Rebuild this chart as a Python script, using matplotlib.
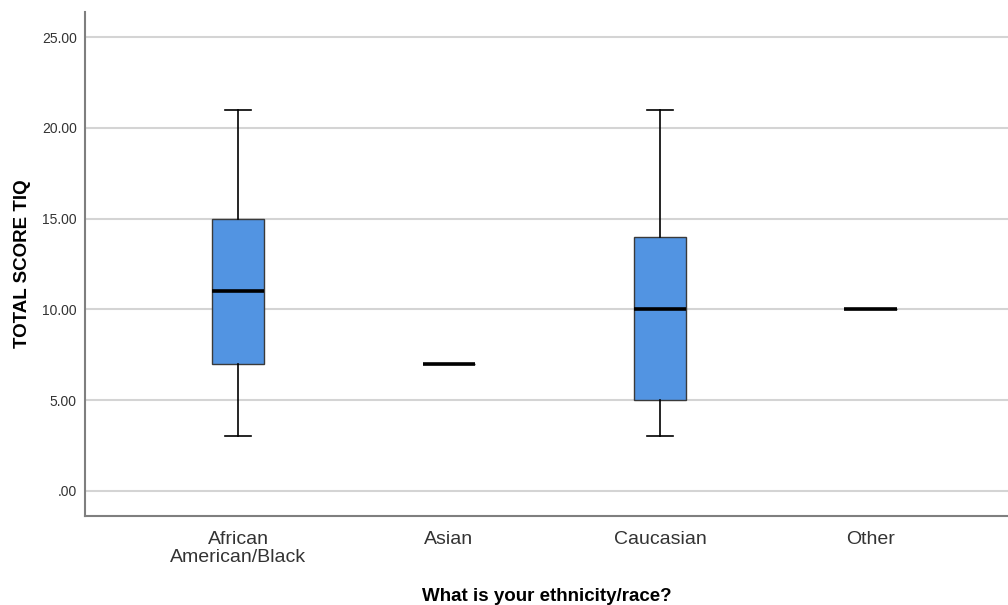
import matplotlib
matplotlib.use("Agg")
import matplotlib.pyplot as plt
from matplotlib.ticker import FuncFormatter

plt.rcParams['font.family'] = ['Liberation Sans', 'DejaVu Sans']

# five-number summaries per group
groups = ['African\nAmerican/Black', 'Asian', 'Caucasian', 'Other']
lo_whisk = [3, 7, 3, 10]
q1 = [7, 7, 5, 10]
median = [11, 7, 10, 10]
q3 = [15, 7, 14, 10]
hi_whisk = [21, 7, 21, 10]

yticks = [0, 5, 10, 15, 20, 25]

stats = []
for i in range(len(groups)):
    stats.append({'whislo': lo_whisk[i], 'q1': q1[i], 'med': median[i],
                  'q3': q3[i], 'whishi': hi_whisk[i], 'fliers': []})

fig = plt.figure(figsize=(10.08, 6.05), dpi=100)
ax = fig.add_axes([85/1008, 1 - 516/605, 1 - 85/1008, (516 - 12)/605])

ax.set_ylim(-1.38, 26.38)
ax.set_xlim(-0.725, 3.65)
for y in yticks:
    ax.axhline(y, color='#d4d4d4', lw=1.5, zorder=0)

ax.bxp(stats, positions=range(len(groups)), widths=0.25, patch_artist=True,
       showfliers=False,
       boxprops=dict(facecolor='#5294e2', edgecolor='#3a3a3a', lw=1),
       medianprops=dict(color='black', lw=2.6, solid_capstyle='butt'),
       whiskerprops=dict(color='black', lw=1.2),
       capprops=dict(color='black', lw=1.2),
       capwidths=0.12)

ax.set_yticks(yticks)
ax.yaxis.set_major_formatter(FuncFormatter(lambda v, p: '.00' if v == 0 else '%.2f' % v))
ax.set_xticks(range(len(groups)))
ax.set_xticklabels(groups, fontsize=14, color='#333333', linespacing=1.05)
ax.tick_params(axis='y', length=0, labelsize=10, pad=6, colors='#333333')
ax.tick_params(axis='x', length=0, pad=11)

for s in ['top', 'right']:
    ax.spines[s].set_visible(False)
for s in ['left', 'bottom']:
    ax.spines[s].set_color('#7f7f7f')
    ax.spines[s].set_linewidth(1.5)

ax.set_ylabel('TOTAL SCORE TIQ', fontsize=13.5, fontweight='bold', labelpad=8)
ax.set_xlabel('What is your ethnicity/race?', fontsize=13.5, fontweight='bold')
ax.xaxis.set_label_coords(0.5, -0.143)

fig.savefig('out.png', dpi=100)
